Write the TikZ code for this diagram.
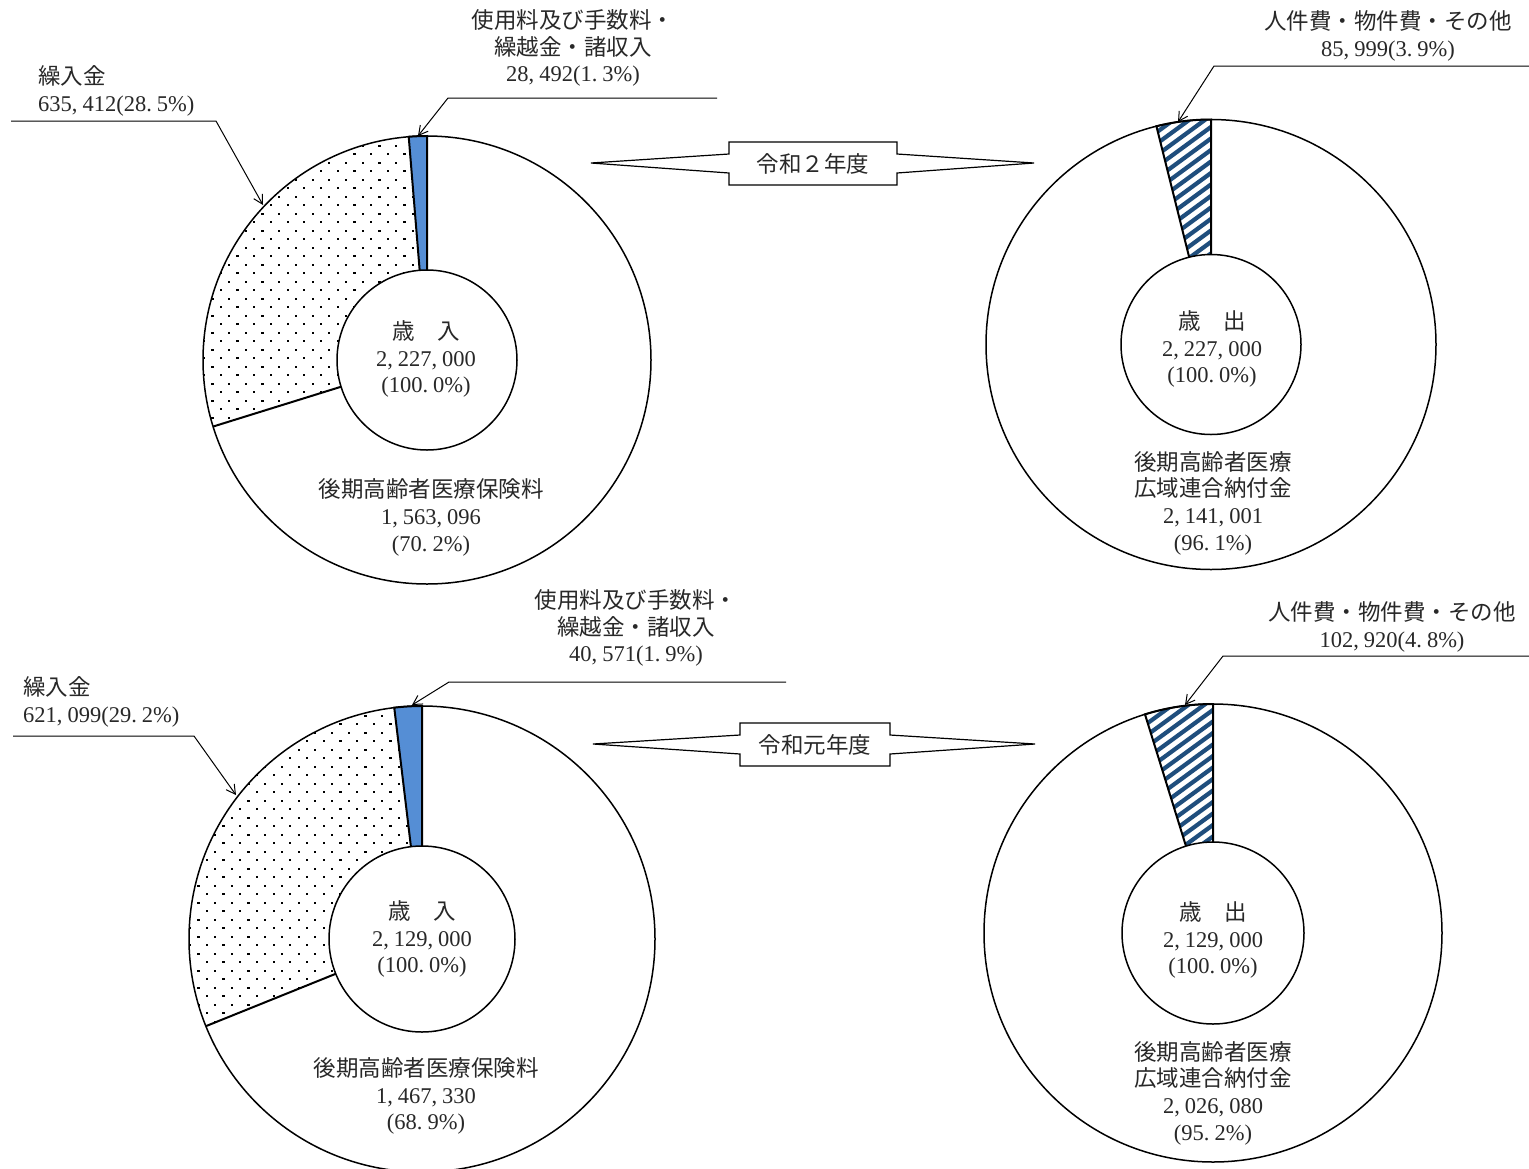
\documentclass[tikz,border=0pt]{standalone}
\usepackage{fontspec}
\setmainfont{Liberation Serif}
\newfontfamily\jp{Noto Sans CJK JP}
\usetikzlibrary{arrows.meta}
\definecolor{sliceblue}{RGB}{85,142,213}
\definecolor{hatchblue}{RGB}{31,78,125}
\definecolor{txt}{RGB}{40,40,40}
\newcommand\cm{,\kern5pt}
\newcommand\pd{.\kern5pt}
\begin{document}
\begin{tikzpicture}[x=1pt,y=-1pt,
 lbl/.style={font=\fontsize{22.5}{26.7}\selectfont, text=txt, align=center, inner sep=0pt},
 leader/.style={draw=black, line width=1pt, -{Straight Barb[length=9pt,width=10pt]}},
 ring/.style={draw=black, line width=1.5pt, fill=white},
 divider/.style={draw=black, line width=2pt},
 callout/.style={draw=black, line width=1.2pt, fill=white},
 hatchline/.style={draw=hatchblue, line width=4.2pt},
 dotfill/.style={fill=black}]
\useasboundingbox (0,0) rectangle (1529,1168);
\fill[white] (0,0) rectangle (1529,1168);

% ================= L1 : top-left pie =================
\coordinate (L1) at (427,360);
\draw[ring] (L1) circle[radius=224];
\begin{scope}
 \clip (L1) -- ++(-94.68:224) arc[start angle=-94.68,end angle=-197.28,radius=224] -- cycle;
 \foreach \i in {0,...,36}{\foreach \j in {0,...,14}{%
   \pgfmathsetmacro\xx{203+\j*16.7+8.35*mod(\i,2)}%
   \pgfmathsetmacro\yy{136+\i*8.5}%
   \fill[dotfill] (\xx,\yy) rectangle ++(2.2,2.2);}}
\end{scope}
\draw[divider] (L1) -- ++(-197.28:224);
\draw[divider, fill=sliceblue] (L1) -- ++(-90:224) arc[start angle=-90,end angle=-94.68,radius=224] -- cycle;
\draw[ring] (L1) circle[radius=90];
\node[lbl] (l1in) at (426,359) {{\jp 歳　入}\\2\cm227\cm000\\(100\pd0\%)};
\node[lbl] (l1lo) at (431,517.5) {{\jp 後期高齢者医療保険料}\\1\cm563\cm096\\(70\pd2\%)};
\node[lbl, anchor=west, align=left] (l1k) at (38,91) {{\jp 繰入金}\\635\cm412(28\pd5\%)};
\node[lbl] (l1s) at (573,48) {{\jp 使用料及び手数料・}\\{\jp 繰越金・諸収入}\\28\cm492(1\pd3\%)};
\coordinate (l1ka) at (11,121);
\coordinate (l1kb) at (216,121);
\coordinate (l1kt) at (263,205);
\draw[leader] (l1ka) -- (l1kb) -- (l1kt);
\coordinate (l1sa) at (717,98);
\coordinate (l1sb) at (448,98);
\coordinate (l1st) at (418,136);
\draw[leader] (l1sa) -- (l1sb) -- (l1st);

% ================= R1 : top-right pie =================
\coordinate (R1) at (1211,344.5);
\draw[ring] (R1) circle[radius=225];
\begin{scope}
 \clip (R1) -- ++(-90:225) arc[start angle=-90,end angle=-104.04,radius=225] -- cycle;
 \foreach \k in {0,...,28}{\draw[hatchline] (1140,{110+\k*11.5}) -- ++(90,-66);}
\end{scope}
\draw[divider] (R1) -- ++(-90:225) arc[start angle=-90,end angle=-104.04,radius=225] -- cycle;
\draw[ring] (R1) circle[radius=90];
\node[lbl] (r1in) at (1212,349) {{\jp 歳　出}\\2\cm227\cm000\\(100\pd0\%)};
\node[lbl] (r1lo) at (1213,503) {{\jp 後期高齢者医療}\\{\jp 広域連合納付金}\\2\cm141\cm001\\(96\pd1\%)};
\node[lbl] (r1s) at (1388,36) {{\jp 人件費・物件費・その他}\\85\cm999(3\pd9\%)};
\coordinate (r1sa) at (1529,66);
\coordinate (r1sb) at (1214,66);
\coordinate (r1st) at (1178,122);
\draw[leader] (r1sa) -- (r1sb) -- (r1st);

% ================= callout 1 =================
\draw[callout] (729,142) -- (897,142) -- (897,154) -- (1034,163) -- (897,173) -- (897,185)
  -- (729,185) -- (729,173) -- (591,163) -- (729,154) -- cycle;
\node[lbl] (c1) at (813,163.5) {\jp 令和２年度};

% ================= L2 : bottom-left pie =================
\coordinate (L2) at (422,939);
\draw[ring] (L2) circle[radius=233];
\begin{scope}
 \clip (L2) -- ++(-96.84:233) arc[start angle=-96.84,end angle=-201.96,radius=233] -- cycle;
 \foreach \i in {0,...,39}{\foreach \j in {0,...,14}{%
   \pgfmathsetmacro\xx{189+\j*16.7+8.35*mod(\i,2)}%
   \pgfmathsetmacro\yy{706+\i*8.5}%
   \fill[dotfill] (\xx,\yy) rectangle ++(2.2,2.2);}}
\end{scope}
\draw[divider] (L2) -- ++(-201.96:233);
\draw[divider, fill=sliceblue] (L2) -- ++(-90:233) arc[start angle=-90,end angle=-96.84,radius=233] -- cycle;
\draw[ring] (L2) circle[radius=93];
\node[lbl] (l2in) at (422,939) {{\jp 歳　入}\\2\cm129\cm000\\(100\pd0\%)};
\node[lbl] (l2lo) at (426,1096) {{\jp 後期高齢者医療保険料}\\1\cm467\cm330\\(68\pd9\%)};
\node[lbl, anchor=west, align=left] (l2k) at (23,702) {{\jp 繰入金}\\621\cm099(29\pd2\%)};
\node[lbl] (l2s) at (636,628) {{\jp 使用料及び手数料・}\\{\jp 繰越金・諸収入}\\40\cm571(1\pd9\%)};
\coordinate (l2ka) at (13,736);
\coordinate (l2kb) at (194,736);
\coordinate (l2kt) at (236,795);
\draw[leader] (l2ka) -- (l2kb) -- (l2kt);
\coordinate (l2sa) at (786,682);
\coordinate (l2sb) at (449,682);
\coordinate (l2st) at (412,705);
\draw[leader] (l2sa) -- (l2sb) -- (l2st);

% ================= R2 : bottom-right pie =================
\coordinate (R2) at (1213,933);
\draw[ring] (R2) circle[radius=229];
\begin{scope}
 \clip (R2) -- ++(-90:229) arc[start angle=-90,end angle=-107.28,radius=229] -- cycle;
 \foreach \k in {0,...,30}{\draw[hatchline] (1130,{690+\k*11.5}) -- ++(100,-73);}
\end{scope}
\draw[divider] (R2) -- ++(-90:229) arc[start angle=-90,end angle=-107.28,radius=229] -- cycle;
\draw[ring] (R2) circle[radius=91];
\node[lbl] (r2in) at (1213,940) {{\jp 歳　出}\\2\cm129\cm000\\(100\pd0\%)};
\node[lbl] (r2lo) at (1213,1093) {{\jp 後期高齢者医療}\\{\jp 広域連合納付金}\\2\cm026\cm080\\(95\pd2\%)};
\node[lbl] (r2s) at (1392,627) {{\jp 人件費・物件費・その他}\\102\cm920(4\pd8\%)};
\coordinate (r2sa) at (1529,656);
\coordinate (r2sb) at (1223,656);
\coordinate (r2st) at (1185,705);
\draw[leader] (r2sa) -- (r2sb) -- (r2st);

% ================= callout 2 =================
\draw[callout] (740,723) -- (890,723) -- (890,735) -- (1035,744) -- (890,754) -- (890,766)
  -- (740,766) -- (740,754) -- (593,744) -- (740,735) -- cycle;
\node[lbl] (c2) at (815,744.5) {\jp 令和元年度};
\end{tikzpicture}
\end{document}
